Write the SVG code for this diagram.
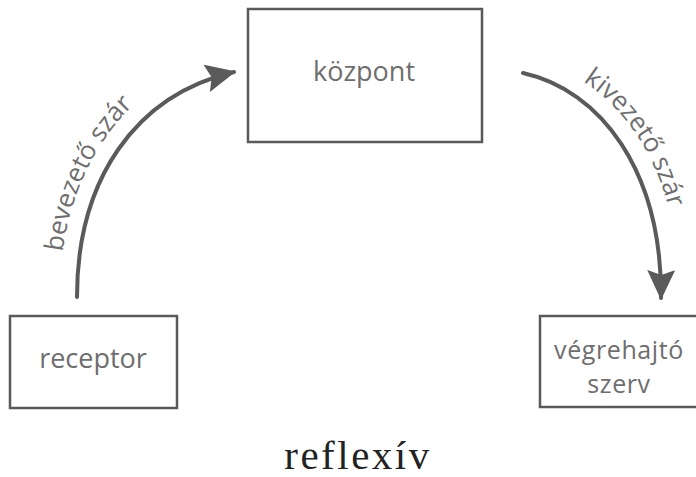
<svg xmlns="http://www.w3.org/2000/svg" width="696" height="477" viewBox="0 0 696 477">
<style>
.box{fill:#fff;stroke:#5a5a5a;stroke-width:2.5}
.lbl{font-family:"Open Sans","Liberation Sans",sans-serif;font-size:27px;fill:#6e6e6e;text-anchor:middle}
.lbl2{font-size:25px}
.arc{fill:none;stroke:#5a5a5a;stroke-width:4;stroke-linecap:round}
.alb{font-family:"Open Sans","Liberation Sans",sans-serif;font-size:26px;fill:#6e6e6e}
</style>
<defs>
<marker id="ah" markerUnits="userSpaceOnUse" viewBox="0 0 30 28" markerWidth="30" markerHeight="28" refX="28" refY="14" orient="auto">
<path d="M0,0 L30,14 L0,28 L5,14 z" fill="#5a5a5a"/>
</marker>
<path id="tp1" d="M60,292 C 60,175 125,78 228,52"/>
<path id="tp2" d="M526,58 C 612,76 679,160 678,290"/>
</defs>
<rect width="696" height="477" fill="#fff"/>
<g id="kozpont">
<rect class="box" x="248" y="9" width="234" height="133"/>
<text class="lbl" x="364" y="81">központ</text>
</g>
<g id="receptor">
<rect class="box" x="10" y="316" width="167" height="92"/>
<text class="lbl" x="93" y="368">receptor</text>
</g>
<g id="vegrehajto">
<rect class="box" x="540" y="316" width="158" height="91"/>
<text class="lbl lbl2" x="619" y="359" letter-spacing="0.6">végrehajtó</text>
<text class="lbl lbl2" x="619" y="393" letter-spacing="0.6">szerv</text>
</g>
<g id="connectors">
<path class="arc" d="M77,297 C 77,180 135,95 234,72" marker-end="url(#ah)"/>
<path class="arc" d="M523,73 C 600,90 662,170 661,298" marker-end="url(#ah)"/>
<text class="alb"><textPath href="#tp1" startOffset="40">bevezető szár</textPath></text>
<text class="alb"><textPath href="#tp2" startOffset="62">kivezető szár</textPath></text>
</g>
<text x="358" y="469" font-family="Liberation Serif,serif" font-size="41" letter-spacing="2.5" fill="#222" text-anchor="middle">reflexív</text>
</svg>
